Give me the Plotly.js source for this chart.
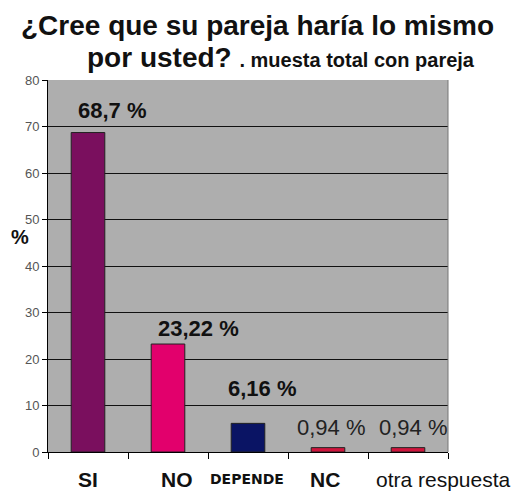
<!DOCTYPE html>
<html><head><meta charset="utf-8">
<script src="https://cdn.plot.ly/plotly-3.0.1.min.js"></script>
<style>body{margin:0;background:#fff}#c{width:520px;height:491px}</style>
</head><body><div id="c"></div>
<script>
const categories = ["SI", "NO", "DEPENDE", "NC", "otra respuesta"];
const values = [68.7, 23.22, 6.16, 0.94, 0.94];
const valueLabels = ["68,7 %", "23,22 %", "6,16 %", "0,94 %", "0,94 %"];
const tickLabels = ["SI", "NO", "DEPENDE", "NC", "otra respuesta"];
const yTicks = [0, 10, 20, 30, 40, 50, 60, 70, 80];
const titleLine1 = "¿Cree que su pareja haría lo mismo";
const titleLine2 = "por usted?";
const titleSub = ". muesta total con pareja";

const colors = ["#7A0F5E", "#E2006C", "#0A1464", "#D0143C", "#D0143C"];
const labelBold = [true, true, true, false, false];
const labelDx = [24.5, 30.5, 14.5, 3, 5.5];
const labelDy = [22.5, 16, 34.4, 20.6, 20.6];
const tickBold = [true, true, true, true, false];
const tickDx = [0, 8.5, -1.5, -3.5, 35];
const FONT = 'Liberation Sans, Arial, sans-serif';

const annotations = categories.map((c, i) => ({
  x: c, y: values[i], xref: 'x', yref: 'y',
  text: labelBold[i] ? '<b>' + valueLabels[i] + '</b>' : valueLabels[i],
  showarrow: false, xanchor: 'center', yanchor: 'middle', yshift: labelDy[i], xshift: labelDx[i],
  font: {family: FONT, size: 22, color: labelBold[i] ? '#111' : '#222'}
}));
categories.forEach((c, i) => {
  const small = c === 'DEPENDE';
  annotations.push({
    x: c, xref: 'x', y: 0, yref: 'paper', yshift: -27, xshift: tickDx[i],
    xanchor: 'center', yanchor: 'middle', showarrow: false,
    text: tickBold[i] ? '<b>' + tickLabels[i] + '</b>' : tickLabels[i],
    font: {family: small ? 'DejaVu Sans, sans-serif' : FONT, size: small ? 14 : 21, color: '#111'}
  });
});
annotations.push({
  xref: 'paper', yref: 'paper', x: -0.07, y: 0.578, text: '<b>%</b>', showarrow: false,
  xanchor: 'center', yanchor: 'middle', font: {family: FONT, size: 20, color: '#111'}
});
annotations.push({
  xref: 'paper', yref: 'paper', x: 0.5225, y: 1, yshift: 55, xanchor: 'center', yanchor: 'middle',
  text: '<b>' + titleLine1 + '</b>', showarrow: false,
  font: {family: FONT, size: 28, color: '#111'}
});
annotations.push({
  xref: 'paper', yref: 'paper', x: 0.0925, y: 1, yshift: 23, xanchor: 'left', yanchor: 'middle',
  text: '<b>' + titleLine2 + " <span style='font-size:20px'>" + titleSub + '</span></b>', showarrow: false,
  font: {family: FONT, size: 28, color: '#111'}
});

Plotly.newPlot('c', [{
  type: 'bar', x: categories, y: values,
  marker: {color: colors, line: {color: '#222', width: 1}},
  width: 0.42, hoverinfo: 'none'
}], {
  width: 520, height: 491,
  margin: {l: 48, r: 72, t: 80, b: 39},
  paper_bgcolor: '#fff', plot_bgcolor: '#AEAEAE',
  showlegend: false,
  xaxis: {
    type: 'category', categoryorder: 'array', categoryarray: categories,
    range: [-0.5, 4.5], autorange: false, showticklabels: false,
    tickson: 'boundaries', ticks: 'outside', ticklen: 6, tickcolor: '#000',
    showline: true, linecolor: '#000', linewidth: 1, showgrid: false,
    fixedrange: true
  },
  yaxis: {
    range: [0, 80], autorange: false, tickvals: yTicks, ticks: 'outside', ticklen: 5, tickcolor: '#000',
    showline: true, linecolor: '#000', linewidth: 1,
    showgrid: true, gridcolor: '#111', gridwidth: 1, zeroline: false,
    tickfont: {family: FONT, size: 13, color: '#555'},
    fixedrange: true
  },
  shapes: [{type: 'line', xref: 'paper', yref: 'paper', x0: 1, x1: 1, y0: 0, y1: 1, line: {color: '#777', width: 1}}],
  annotations: annotations
}, {displayModeBar: false, staticPlot: true});
</script></body></html>
